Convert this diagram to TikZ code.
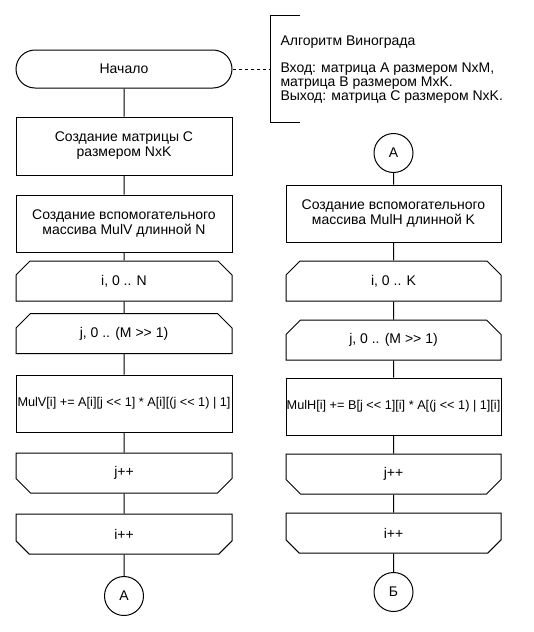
\documentclass[tikz,border=0pt]{standalone}
\usepackage{fontspec}
\setmainfont{Liberation Sans}[Ligatures=TeXOff]
\usetikzlibrary{shapes.misc}

\tikzset{
    blk/.style={draw, line width=1pt, minimum width=216pt, inner sep=0pt, align=center, font=\fontsize{14}{15}\selectfont},
    proc/.style={blk, rectangle},
    calc/.style={proc, minimum height=57pt, font=\fontsize{12.7}{15}\selectfont},
    term/.style={blk, rounded corners=19pt, minimum height=38pt},
    loopbeg/.style={blk, chamfered rectangle, chamfered rectangle corners={north west, north east}, chamfered rectangle xsep=8pt, chamfered rectangle ysep=8pt, minimum height=40pt},
    loopend/.style={blk, chamfered rectangle, chamfered rectangle corners={south west, south east}, chamfered rectangle xsep=8pt, chamfered rectangle ysep=8pt, minimum height=40pt},
    conn/.style={draw, circle, line width=1pt, minimum size=39pt, inner sep=0pt, font=\fontsize{14}{15}\selectfont},
}

\begin{document}
\begin{tikzpicture}[x=1pt, y=-1pt, line width=1pt]

    \useasboundingbox (0,0) rectangle (533,632);

    % left column
    \node[term] (start) at (124,69) {Начало};
    \node[proc, minimum height=58pt] (mkC) at (124,146) {Создание матрицы C\\размером NxK};
    \node[proc, minimum height=57pt] (mkV) at (124,223.5) {Создание вспомогательного\\массива MulV длинной N};
    \node[loopbeg] (loopiV) at (124,281) {i, 0 .. N};
    \node[loopbeg] (loopjV) at (124,333.5) {j, 0 .. (M >> 1)};
    \node[calc] (sumV) at (124,403.5) {MulV[i] += A[i][j << 1] * A[i][(j << 1) | 1]};
    \node[loopend] (endjV) at (124,473) {j++};
    \node[loopend] (endiV) at (124,534) {i++};
    \node[conn] (outA) at (124,596) {А};

    \draw (start) -- (mkC) -- (mkV) -- (loopiV) -- (loopjV) -- (sumV) -- (endjV) -- (endiV) -- (outA);

    % right column
    \node[conn] (inA) at (393.5,153) {А};
    \node[proc, minimum width=215pt, minimum height=57pt] (mkH) at (393.5,213.5) {Создание вспомогательного\\массива MulH длинной K};
    \node[loopbeg, minimum width=215pt] (loopiH) at (393.5,281) {i, 0 .. K};
    \node[loopbeg, minimum width=215pt] (loopjH) at (393.5,340) {j, 0 .. (M >> 1)};
    \node[calc, minimum width=215pt] (sumH) at (393.5,406.5) {MulH[i] += B[j << 1][i] * A[(j << 1) | 1][i]};
    \node[loopend, minimum width=215pt] (endjH) at (393.5,474) {j++};
    \node[loopend, minimum width=215pt] (endiH) at (393.5,533) {i++};
    \node[conn] (outB) at (393.5,592) {Б};

    \draw (inA) -- (mkH) -- (loopiH) -- (loopjH) -- (sumH) -- (endjH) -- (endiH) -- (outB);

    % comment
    \coordinate (note) at (270,69);
    \draw (300,15) -- (270,15) -- (270,122) -- (300,122);
    \draw[dash pattern=on 3pt off 3pt] (start) -- (note);
    \node[anchor=west, align=left, inner sep=0pt, font=\fontsize{14}{14}\selectfont] (noteText) at (280,69.5) {Алгоритм Винограда\\[13.5pt]Вход: матрица A размером NxM,\\матрица B размером MxK.\\Выход: матрица C размером NxK.};

\end{tikzpicture}
\end{document}
